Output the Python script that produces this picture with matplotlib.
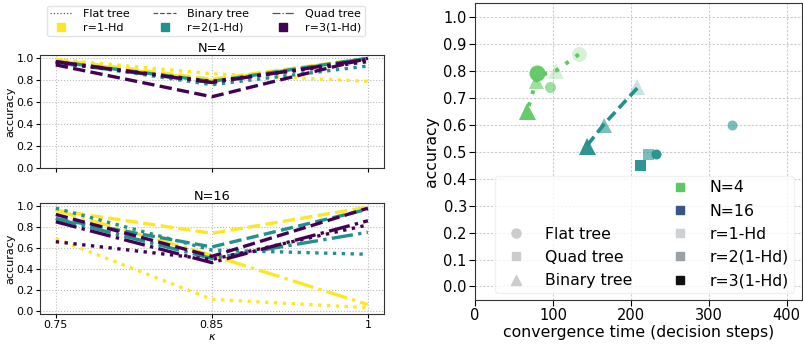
import matplotlib
matplotlib.use("Agg")
import matplotlib.pyplot as plt
from matplotlib.lines import Line2D

# ---------------- data ----------------
kappa_labels = ["0.75", "0.85", "1"]
r_labels = ["r=1-Hd", "r=2(1-Hd)", "r=3(1-Hd)"]
tree_labels = ["Flat tree", "Binary tree", "Quad tree"]

# N=4 accuracy, per tree, per r
n4_flat = [[0.99, 0.86, 0.79], [0.97, 0.76, 0.93], [0.96, 0.79, 0.97]]
n4_binary = [[0.99, 0.81, 1.00], [0.97, 0.79, 1.00], [0.94, 0.65, 1.00]]
n4_quad = [[0.98, 0.80, 1.00], [0.96, 0.78, 1.00], [0.97, 0.78, 0.99]]

# N=16 accuracy, per tree, per r
n16_flat = [[0.69, 0.11, 0.03], [0.98, 0.58, 0.54], [0.66, 0.49, 0.82]]
n16_binary = [[0.96, 0.74, 0.99], [0.88, 0.61, 0.97], [0.92, 0.52, 0.98]]
n16_quad = [[0.96, 0.53, 0.06], [0.88, 0.50, 0.75], [0.85, 0.46, 0.86]]

# scatter: convergence time vs accuracy  (tree, r index, time, acc)
n4_tree = ["flat", "flat", "flat", "binary", "binary", "binary"]
n4_r = [0, 1, 2, 0, 1, 2]
n4_time = [133, 96, 80, 104, 78, 67]
n4_acc = [0.86, 0.74, 0.79, 0.80, 0.76, 0.65]

n16_tree = ["flat", "flat", "quad", "quad", "binary", "binary", "binary"]
n16_r = [1, 2, 1, 2, 0, 1, 2]
n16_time = [330, 232, 222, 212, 208, 165, 143]
n16_acc = [0.60, 0.49, 0.49, 0.45, 0.74, 0.60, 0.52]

# trend lines
n4_line_time = [133, 104, 80, 67]
n4_line_acc = [0.86, 0.80, 0.78, 0.65]
n16_line_time = [208, 165, 143]
n16_line_acc = [0.735, 0.60, 0.52]

# ---------------- style ----------------
r_colors = ["#fde725", "#21918c", "#440154"]
tree_ls = {"Flat tree": ":", "Binary tree": "--", "Quad tree": "-."}
n4_sizes = [15, 11, 16, 16, 15, 17]
n16_sizes = [10, 10, 11, 11, 16, 15, 17]
r_alpha = [0.25, 0.6, 0.95]
marker_of = {"flat": "o", "quad": "s", "binary": "^"}
c_n4 = "#5ec962"
c_n16 = "#21918c"

fig = plt.figure(figsize=(8.04, 3.46), dpi=100)

ax1 = fig.add_axes([0.05, 0.514, 0.427, 0.327])
ax2 = fig.add_axes([0.05, 0.0925, 0.427, 0.321])
ax3 = fig.add_axes([0.591, 0.133, 0.407, 0.858])

x = list(range(len(kappa_labels)))

def draw_left(ax, flat, binary, quad, title):
    for ri in range(3):
        for name, data in (("Flat tree", flat), ("Binary tree", binary), ("Quad tree", quad)):
            ax.plot(x, data[ri], color=r_colors[ri], linestyle=tree_ls[name], lw=2.4)
    ax.set_xlim(-0.1, 2.1)
    ax.set_xticks(x)
    ax.set_title(title, fontsize=9.3, pad=2)
    ax.set_ylabel("accuracy", fontsize=8, labelpad=1)
    ax.set_yticks([0, 0.2, 0.4, 0.6, 0.8, 1.0])
    ax.tick_params(labelsize=7.9, length=3, pad=1.5)
    ax.grid(True, linestyle=":", color="#bbbbbb", lw=0.8)
    for s in ax.spines.values():
        s.set_color("#333333")

draw_left(ax1, n4_flat, n4_binary, n4_quad, "N=4")
ax1.set_ylim(0.0, 1.03)
ax1.set_xticklabels([])
draw_left(ax2, n16_flat, n16_binary, n16_quad, "N=16")
ax2.set_ylim(-0.03, 1.03)
ax2.set_xticklabels(kappa_labels)
ax2.set_xlabel(r"$\kappa$", fontsize=8, labelpad=1)

# top legend
h = []
labels = []
for t, r_i in zip(tree_labels, range(3)):
    h.append(Line2D([], [], color="#555555", lw=0.9, linestyle=tree_ls[t]))
    labels.append(t)
    h.append(Line2D([], [], color=r_colors[r_i], marker="s", linestyle="none", markersize=6))
    labels.append(r_labels[r_i])
fig.legend(h, labels, ncol=3, loc="upper center", bbox_to_anchor=(0.256, 1.0),
           fontsize=8, frameon=True, handlelength=2.0, handletextpad=1.0, columnspacing=2.1,
           borderpad=0.3, labelspacing=0.35, edgecolor="#dddddd")

# right scatter
ax3.plot(n4_line_time, n4_line_acc, color=c_n4, linestyle=(0, (1, 2.2)), lw=2.8, zorder=3)
ax3.plot(n16_line_time, n16_line_acc, color=c_n16, linestyle=(0, (3, 1.5)), lw=2.6, zorder=3)
for t, ri, xt, ya, sz in zip(n4_tree, n4_r, n4_time, n4_acc, n4_sizes):
    ax3.plot(xt, ya, marker=marker_of[t], color=c_n4, alpha=r_alpha[ri], markersize=sz * 0.72,
             markeredgewidth=0, linestyle="none", zorder=2)
for t, ri, xt, ya, sz in zip(n16_tree, n16_r, n16_time, n16_acc, n16_sizes):
    ax3.plot(xt, ya, marker=marker_of[t], color=c_n16, alpha=r_alpha[ri], markersize=sz * 0.72,
             markeredgewidth=0, linestyle="none", zorder=2)
ax3.set_xlim(0, 420)
ax3.set_ylim(-0.05, 1.05)
ax3.set_yticks([i / 10 for i in range(11)])
ax3.set_xticks([0, 100, 200, 300, 400])
ax3.tick_params(labelsize=10.5, length=4, pad=2)
ax3.grid(True, linestyle=(0, (2, 1.5)), color="#cccccc", lw=0.8)
ax3.set_xlabel("convergence time (decision steps)", fontsize=11.3, labelpad=1)
ax3.set_ylabel("accuracy", fontsize=11.3, labelpad=3)
for s in ax3.spines.values():
    s.set_color("#333333")

blank = Line2D([], [], linestyle="none")
gray = "#cccccc"
rh = [blank, blank,
      Line2D([], [], marker="o", color=gray, linestyle="none", markersize=6.5),
      Line2D([], [], marker="s", color=gray, linestyle="none", markersize=6),
      Line2D([], [], marker="^", color=gray, linestyle="none", markersize=7),
      Line2D([], [], marker="s", color=c_n4, linestyle="none", markersize=5.5),
      Line2D([], [], marker="s", color="#3b528b", linestyle="none", markersize=5.5),
      Line2D([], [], marker="s", color="#cdd0d4", linestyle="none", markersize=5.5),
      Line2D([], [], marker="s", color="#9aa0a6", linestyle="none", markersize=5.5),
      Line2D([], [], marker="s", color="#111111", linestyle="none", markersize=5.5)]
rl = ["", "", "Flat tree", "Quad tree", "Binary tree",
      "N=4", "N=16", r_labels[0], r_labels[1], r_labels[2]]
ax3.legend(rh, rl, ncol=2, loc="lower right", fontsize=11.3, frameon=True,
           edgecolor="#eeeeee", borderpad=0.3, labelspacing=0.52, handletextpad=0.9,
           columnspacing=2.0, bbox_to_anchor=(0.997, -0.002))

fig.savefig("out.png", dpi=100)
